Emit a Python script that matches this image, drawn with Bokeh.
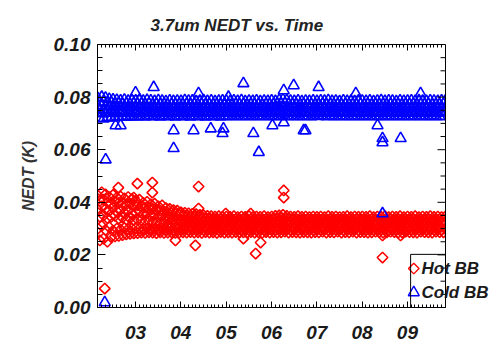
import numpy as np
from bokeh.plotting import figure
from bokeh.models import (FixedTicker, LinearAxis, Range1d, BoxAnnotation,
                          ColumnDataSource, Label, Span)
from bokeh.embed import file_html
from bokeh.resources import INLINE

FONT = "Liberation Sans"

# ---------------- data (NEDT in units of 1e-4 K, half-month samples from 2002.17) ----------------
t_start = 2002.17
t_step = 1.0 / 24.0

cold_a = [
    795, 778, 800, 782, 797, 776, 792, 779, 790, 774, 788, 777, 786, 772, 789, 775, 785, 773, 787, 776,
    786, 772, 789, 774, 785, 771, 788, 775, 786, 770, 784, 773, 787, 771, 785, 774, 783, 770, 786, 772, 784, 771, 785, 773,
    784, 771, 787, 773, 785, 770, 786, 774, 783, 771, 785, 772, 787, 770, 784, 773, 786, 771, 783, 772, 785, 770, 786, 773,
    785, 772, 783, 770, 786, 773, 784, 771, 787, 772, 783, 770, 785, 773, 784, 771, 786, 772, 783, 770, 785, 773, 784, 771,
    786, 772, 784, 775, 788, 774, 790, 776, 787, 773, 785, 771, 784, 772, 786, 770, 783, 773, 785, 771, 784, 772, 786, 770,
    784, 771, 786, 773, 785, 770, 787, 772, 784, 771, 785, 773, 783, 770, 786, 772, 784, 771, 785, 773, 783, 770, 786, 772,
    785, 771, 784, 773, 786, 770, 783, 772, 785, 771, 787, 773, 784, 770, 786, 772, 785, 771, 783, 773, 786, 770, 784, 772,
    785, 771, 786, 773, 784, 770, 787, 772, 785, 771, 784, 773, 786, 770, 785, 772, 784, 771, 786, 773, 785,
]
cold_b = [
    765, 750, 768, 752, 763, 748, 766, 751, 762, 747, 764, 750, 761, 746, 763, 749, 760, 747, 762, 748,
    761, 746, 763, 749, 760, 745, 762, 748, 761, 746, 759, 747, 762, 745, 760, 748, 761, 746, 759, 747, 762, 745, 760, 748,
    761, 746, 759, 748, 762, 745, 760, 747, 761, 746, 759, 748, 762, 745, 760, 747, 761, 746, 759, 748, 762, 745, 760, 747,
    761, 747, 760, 745, 762, 748, 759, 746, 761, 747, 760, 745, 762, 748, 759, 746, 761, 747, 760, 745, 762, 748, 759, 746,
    761, 747, 762, 748, 764, 749, 765, 748, 762, 746, 760, 747, 761, 745, 762, 748, 760, 746, 761, 747, 762, 745, 760, 748,
    761, 746, 762, 748, 760, 745, 761, 747, 762, 746, 760, 748, 761, 745, 762, 747, 760, 746, 761, 748, 762, 745, 760, 747,
    761, 747, 760, 745, 762, 748, 761, 746, 760, 747, 762, 745, 761, 748, 760, 746, 762, 747, 761, 745, 760, 748, 762, 746,
    761, 747, 760, 745, 762, 748, 761, 746, 760, 747, 762, 745, 761, 748, 760, 746, 762, 747, 761, 745, 760,
]
cold_c = [
    740, 720, 738, 718, 741, 722, 739, 721, 740, 723, 738, 724, 741, 725, 739, 724, 740, 726, 738, 725,
    740, 726, 738, 727, 741, 725, 739, 728, 740, 726, 738, 727, 741, 725, 739, 728, 740, 726, 738, 727, 741, 725, 739, 728,
    740, 726, 738, 727, 741, 725, 739, 728, 740, 726, 738, 727, 741, 725, 739, 728, 740, 726, 738, 727, 741, 725, 739, 728,
    741, 727, 739, 726, 740, 728, 738, 727, 741, 726, 739, 728, 740, 727, 738, 726, 741, 728, 739, 727, 740, 726, 738, 728,
    741, 727, 739, 726, 740, 728, 738, 727, 741, 726, 739, 728, 740, 727, 738, 726, 741, 728, 739, 727, 740, 726, 738, 728,
    740, 727, 741, 728, 739, 726, 740, 728, 741, 727, 739, 726, 740, 728, 741, 727, 739, 726, 740, 728, 741, 727, 739, 726,
    740, 728, 741, 727, 739, 726, 740, 728, 741, 727, 739, 726, 740, 728, 741, 727, 739, 726, 740, 728, 741, 727, 739, 726,
    740, 728, 741, 727, 739, 726, 740, 728, 741, 727, 739, 726, 740, 728, 741, 727, 739, 726, 740, 728, 741,
]

hot_a = [
    425, 405, 438, 410, 430, 400, 420, 395, 428, 402, 418, 398, 422, 396, 415, 392, 420, 395, 412, 390,
    405, 388, 410, 385, 398, 380, 402, 378, 392, 375, 395, 372, 385, 368, 388, 365, 378, 360, 375, 358, 370, 355, 368, 352,
    362, 348, 360, 345, 358, 344, 356, 342, 355, 340, 352, 338, 350, 337, 348, 336, 347, 335, 346, 334, 347, 335, 345, 334,
    346, 334, 345, 333, 347, 335, 344, 332, 346, 334, 345, 333, 347, 335, 344, 332, 346, 334, 345, 333, 347, 335, 344, 332,
    346, 334, 348, 336, 350, 338, 352, 337, 348, 335, 346, 333, 345, 334, 347, 332, 345, 333, 346, 334, 344, 332, 346, 333,
    345, 333, 346, 334, 344, 332, 347, 335, 345, 333, 346, 334, 344, 332, 345, 333, 347, 335, 344, 332, 346, 334, 345, 333,
    346, 334, 345, 332, 347, 335, 344, 333, 346, 334, 345, 332, 347, 333, 344, 335, 346, 332, 345, 334, 347, 333, 344, 335,
    346, 333, 345, 334, 347, 332, 344, 335, 346, 333, 345, 334, 347, 332, 345, 333, 346, 335, 344, 333, 346,
]
hot_b = [
    370, 345, 385, 350, 375, 340, 368, 345, 380, 348, 365, 338, 372, 342, 360, 335, 368, 340, 358, 332,
    362, 335, 365, 332, 355, 330, 358, 328, 350, 326, 352, 324, 346, 322, 348, 320, 342, 318, 340, 316, 336, 315, 334, 314,
    330, 314, 328, 313, 327, 312, 326, 313, 325, 311, 324, 312, 325, 310, 324, 311, 323, 312, 324, 310, 323, 311, 324, 312,
    324, 311, 323, 312, 325, 310, 324, 311, 323, 312, 325, 310, 324, 311, 323, 312, 325, 310, 324, 311, 323, 312, 325, 310,
    324, 311, 325, 312, 327, 313, 328, 312, 325, 311, 324, 310, 323, 312, 325, 311, 324, 310, 323, 312, 324, 311, 325, 310,
    324, 312, 323, 310, 325, 311, 324, 312, 323, 310, 325, 311, 324, 312, 323, 310, 325, 311, 324, 312, 323, 310, 325, 311,
    324, 312, 323, 310, 325, 311, 324, 312, 323, 310, 325, 311, 324, 312, 323, 310, 325, 311, 324, 312, 323, 310, 325, 311,
    324, 311, 325, 312, 323, 310, 324, 311, 325, 312, 323, 310, 324, 311, 325, 312, 323, 310, 324, 311, 325,
]
hot_c = [
    300, 255, 310, 262, 295, 250, 305, 268, 292, 270, 300, 272, 296, 275, 302, 278, 298, 280, 300, 282,
    302, 283, 300, 285, 298, 284, 301, 286, 297, 285, 299, 283, 296, 286, 300, 284, 297, 285, 299, 286, 296, 284, 298, 285,
    297, 286, 299, 285, 296, 287, 298, 285, 297, 286, 299, 284, 296, 287, 298, 285, 297, 286, 299, 284, 296, 287, 298, 285,
    297, 286, 299, 285, 296, 287, 298, 285, 297, 286, 299, 284, 296, 287, 298, 285, 297, 286, 299, 284, 296, 287, 298, 285,
    298, 287, 297, 285, 299, 286, 296, 288, 298, 285, 297, 287, 299, 286, 296, 285, 298, 287, 297, 286, 299, 285, 296, 287,
    298, 286, 297, 288, 299, 285, 296, 287, 298, 286, 297, 288, 299, 285, 296, 287, 298, 286, 297, 288, 299, 285, 296, 287,
    298, 287, 297, 285, 299, 286, 296, 288, 298, 287, 297, 285, 299, 286, 296, 288, 298, 287, 297, 285, 299, 286, 296, 288,
    298, 287, 297, 286, 299, 285, 296, 288, 298, 287, 297, 286, 299, 285, 296, 288, 298, 287, 297, 286, 299,
]

# outliers (decimal year, K)
cold_out_t = [2002.34, 2002.32, 2003.00, 2003.40, 2004.39, 2005.38, 2006.27, 2006.49, 2005.05,
              2003.84, 2003.84, 2004.28, 2004.66, 2004.92, 2004.94, 2005.60, 2005.72, 2006.02,
              2006.27, 2006.71, 2002.67, 2002.56, 2007.86, 2009.29, 2006.75, 2008.34, 2008.45,
              2008.45, 2008.85, 2008.45, 2007.04]
cold_out_v = [0.0562, 0.0019, 0.0817, 0.0837, 0.0814, 0.0852, 0.0825, 0.0844, 0.0800,
              0.0673, 0.0605, 0.0673, 0.0680, 0.0662, 0.0680, 0.0662, 0.0590, 0.0692,
              0.0703, 0.0673, 0.0692, 0.0692, 0.0814, 0.0814, 0.0673, 0.0692, 0.0643,
              0.0627, 0.0643, 0.0357, 0.0837]
hot_out_t = [2003.04, 2003.37, 2003.37, 2002.62, 2002.96, 2004.39, 2006.27, 2006.27, 2003.99,
             2004.39, 2004.99, 2005.54, 2003.88, 2004.32, 2005.38, 2005.76, 2005.65, 2002.32,
             2008.45, 2008.45, 2008.85]
hot_out_v = [0.0471, 0.0475, 0.0437, 0.0456, 0.0418, 0.0460, 0.0445, 0.0418, 0.0361,
             0.0376, 0.0357, 0.0357, 0.0255, 0.0236, 0.0262, 0.0247, 0.0205, 0.0072,
             0.0190, 0.0274, 0.0274]

year_ticks = [2003, 2004, 2005, 2006, 2007, 2008, 2009]
year_labels = ["03", "04", "05", "06", "07", "08", "09"]
y_ticks = [0.0, 0.02, 0.04, 0.06, 0.08, 0.10]
y_labels = ["0.00", "0.02", "0.04", "0.06", "0.08", "0.10"]
series_names = ["Hot BB", "Cold BB"]

# ---------------- layout constants ----------------
W, H = 496, 351
LEFT, TOP, BOTTOM = 97, 44, 44
PLOT_RIGHT_PX = 445            # where the plot box ends (legend text runs past it)
X0, X1 = 2002.16, 2009.84      # time span of the plot box
px_per_yr = (PLOT_RIGHT_PX - LEFT) / (X1 - X0)
x_end = X1 + (W - PLOT_RIGHT_PX) / px_per_yr

scale = 1e-4


def times(arr):
    return t_start + t_step * np.arange(len(arr))


def build(a, b, c, out_t, out_v):
    ts = np.concatenate([times(a), times(b), times(c), np.array(out_t)])
    vs = np.concatenate([np.array(a) * scale, np.array(b) * scale,
                         np.array(c) * scale, np.array(out_v)])
    return ColumnDataSource(dict(t=ts, v=vs))


hot_src = build(hot_a, hot_b, hot_c, hot_out_t, hot_out_v)
cold_src = build(cold_a, cold_b, cold_c, cold_out_t, cold_out_v)

p = figure(width=W, height=H, output_backend="svg", toolbar_location=None,
           x_range=Range1d(X0, x_end), y_range=Range1d(0.0, 0.10),
           x_axis_type=None, y_axis_type=None,
           min_border_left=LEFT, min_border_right=0, min_border_top=TOP, min_border_bottom=BOTTOM,
           title="3.7um NEDT vs. Time")
p.xgrid.visible = False
p.ygrid.visible = False
p.outline_line_color = None
p.background_fill_color = "white"
p.border_fill_color = "white"

p.title.text_font = FONT
p.title.text_font_style = "bold italic"
p.title.text_font_size = "17px"
p.title.text_color = "#222222"
p.title.align = "left"
p.title.offset = 53
p.title.standoff = 20

month_minor = [2002 + m / 12.0 for m in range(0, 12 * 8 + 1) if 2002 + m / 12.0 <= X1]
y_minor = [i * 0.005 for i in range(21)]
xtick = FixedTicker(ticks=year_ticks, minor_ticks=month_minor)
ytick = FixedTicker(ticks=y_ticks, minor_ticks=y_minor)


def style(ax, show, major_in, minor_in):
    ax.axis_line_color = "black"
    ax.axis_line_width = 1
    ax.major_tick_line_color = "black"
    ax.minor_tick_line_color = "black"
    ax.major_tick_in = major_in
    ax.major_tick_out = 0
    ax.minor_tick_in = minor_in
    ax.minor_tick_out = 0
    ax.major_label_text_font = FONT
    ax.major_label_text_font_style = "bold italic"
    if show:
        ax.major_label_text_font_size = "19px"
        ax.major_label_text_color = "#1a1a1a"
    else:
        ax.major_label_text_font_size = "1px"
        ax.major_label_text_color = None
        ax.major_label_standoff = 0


xb = LinearAxis(ticker=xtick, bounds=(X0, X1),
                major_label_overrides=dict(zip(year_ticks, year_labels)))
style(xb, True, 6, 3)
xb.major_label_standoff = 18
p.add_layout(xb, "below")

xt = LinearAxis(ticker=xtick, bounds=(X0, X1))
style(xt, False, 6, 3)
p.add_layout(xt, "above")

yl = LinearAxis(ticker=ytick, major_label_overrides=dict(zip(y_ticks, y_labels)),
                axis_label="NEDT (K)")
style(yl, True, 8, 5)
yl.major_label_standoff = 7
yl.axis_label_text_font = FONT
yl.axis_label_text_font_style = "bold italic"
yl.axis_label_text_font_size = "16px"
yl.axis_label_text_color = "#333333"
yl.axis_label_standoff = 14
p.add_layout(yl, "left")

# ---- data ----
r_hot = p.scatter(x="t", y="v", source=hot_src, marker="square", angle=np.pi / 4,
                  size=7.5, fill_alpha=0, line_color="#ff0000", line_width=1.6)
r_cold = p.scatter(x="t", y="v", source=cold_src, marker="triangle",
                   size=11, fill_alpha=0, line_color="#0000ff", line_width=1.6)

# ---- right edge of the plot box, with inward ticks ----
maj_len, min_len = 8 / px_per_yr, 5 / px_per_yr
tick_len = [maj_len if any(abs(v - t) < 1e-9 for t in y_ticks) else min_len for v in y_minor]
tick_src = ColumnDataSource(dict(x0=[X1] * len(y_minor),
                                 x1=[X1 - L for L in tick_len], y=y_minor))
p.segment(x0="x0", x1="x1", y0="y", y1="y", source=tick_src, line_color="black", line_width=1)

cover = BoxAnnotation(left=X1, right=x_end, bottom=0.0, top=0.10,
                      fill_color="white", fill_alpha=1, line_alpha=0)
p.add_layout(cover)
p.add_layout(Span(location=X1, dimension="height", line_color="black", line_width=1))

# ---- legend (IDL style: small box round the symbols, text running past it) ----
leg_left, leg_top = 2009.07, 0.0202
key_x, text_x = 2009.14, 2009.31
key_y = [0.0148, 0.0057]

box = BoxAnnotation(left=leg_left, right=X1, bottom=0.0, top=leg_top,
                    fill_alpha=0, line_color="black", line_width=1, line_alpha=1)
p.add_layout(box)

key_src = ColumnDataSource(dict(x=[key_x], y=[key_y[0]]))
p.scatter(x="x", y="y", source=key_src, marker="square", angle=np.pi / 4, size=7.5,
          fill_alpha=0, line_color="#ff0000", line_width=1.4)
key_src2 = ColumnDataSource(dict(x=[key_x], y=[key_y[1]]))
p.scatter(x="x", y="y", source=key_src2, marker="triangle", size=11,
          fill_alpha=0, line_color="#0000ff", line_width=1.4)

for name, yy in zip(series_names, key_y):
    p.add_layout(Label(x=text_x, y=yy, text=name, text_font=FONT,
                       text_font_style="bold italic", text_font_size="17px",
                       text_color="#1a1a1a", text_baseline="middle", text_align="left"))

open("out.html", "w").write(file_html(p, INLINE))
